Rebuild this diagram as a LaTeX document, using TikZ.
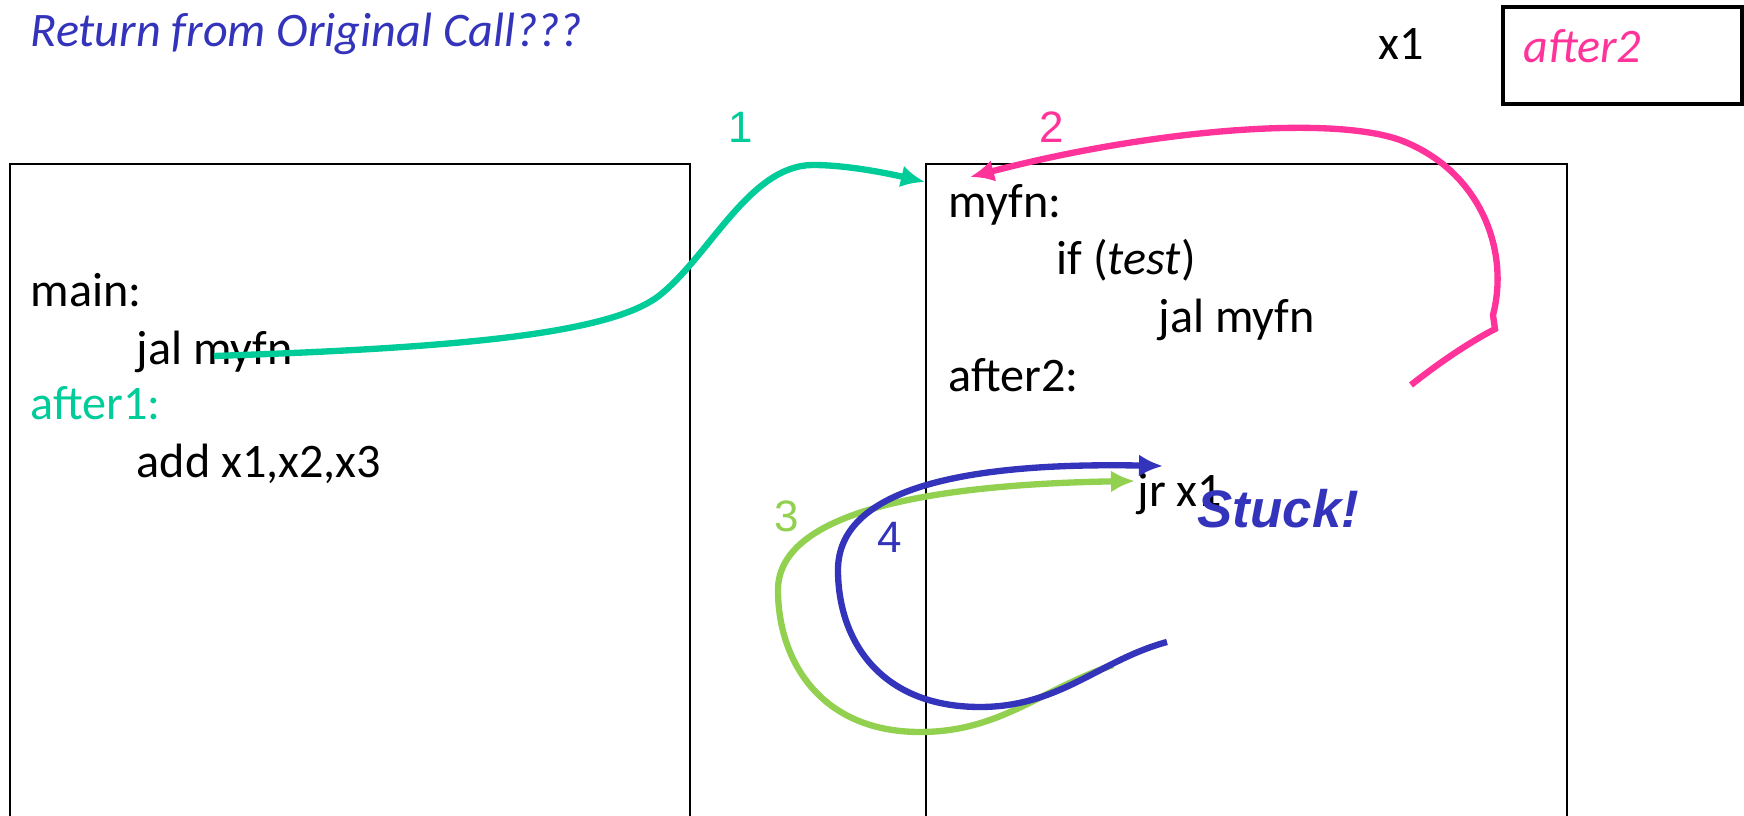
\documentclass[tikz,border=0pt]{standalone}
\usepackage{fontspec}
\setmainfont{Carlito}
\newfontfamily\arialfont{Liberation Sans}
\usetikzlibrary{arrows.meta}
\definecolor{titleblue}{HTML}{3333BB}
\definecolor{callteal}{HTML}{00CC99}
\definecolor{retpink}{HTML}{FF3399}
\definecolor{retgreen}{HTML}{92D050}

\begin{document}
\begin{tikzpicture}[
  x=0.01cm, y=-0.01cm,
  code/.style={anchor=base west, inner sep=0pt, font=\fontsize{13.7}{16}\selectfont},
  stepnum/.style={anchor=base, inner sep=0pt, font=\arialfont\fontsize{12.5}{15}\selectfont},
  frame/.style={draw, line width=0.6pt},
  flow/.style={line width=1.8pt, ->},
  >={Latex[length=2.4mm, width=2.2mm]}
]
\useasboundingbox (0,0) rectangle (1744,816);

\node[code, text=titleblue, font=\fontsize{13.7}{16}\selectfont\itshape] (title) at (30,47) {Return from Original Call???};
\node[code] (regname) at (1378,60) {x1};
\draw[line width=1pt] (1503,7) rectangle (1742,104);
\node[code, text=retpink, font=\fontsize{13.7}{16}\selectfont\itshape] (regval) at (1523,63) {after2};

\draw[frame] (10,816) |- (690,164) -- (690,816);
\draw[frame] (926,816) |- (1567,164) -- (1567,816);

\node[code] (mainlbl) at (30,307) {main:};
\node[code] (jalmain) at (136,365) {jal myfn};
\node[code, text=callteal] (after1) at (30,420) {after1:};
\node[code] (addline) at (136,478) {add x1,x2,x3};

\node[code] (fnlbl) at (948,218) {myfn:};
\node[code] (iftest) at (1056,275) {if (\textit{test})};
\node[code] (jalfn) at (1158,333) {jal myfn};
\node[code] (after2) at (948,392) {after2:};
\node[code] (jrline) at (1137,507) {jr x1};

\node[stepnum, text=callteal] (n1) at (741,143) {1};
\node[stepnum, text=retpink] (n2) at (1052,143) {2};
\node[stepnum, text=retgreen] (n3) at (787,532) {3};
\node[stepnum, text=titleblue] (n4) at (890,553) {4};

\coordinate (callfrom) at (214,356);
\coordinate (fnentry) at (925,182);
\coordinate (recfrom) at (1411,385);
\coordinate (recto) at (970,177);
\coordinate (retfrom) at (1113,665);
\coordinate (retto) at (1135,481);
\coordinate (stuckfrom) at (1167,642);
\coordinate (stuckto) at (1163,466);

\draw[flow, callteal] (callfrom) .. controls (450,348) and (610,335) .. (660,295)
  .. controls (710,255) and (750,165) .. (813,165)
  .. controls (850,165) and (895,175) .. (fnentry);
\draw[flow, retpink] (recfrom) .. controls (1440,362) and (1470,342) .. (1495,329) -- (1493,315)
  .. controls (1510,250) and (1480,170) .. (1400,140)
  .. controls (1330,115) and (1150,130) .. (recto);
\draw[flow, retgreen] (retfrom) .. controls (1040,690) and (1000,732) .. (920,732)
  .. controls (820,732) and (778,660) .. (778,590)
  .. controls (778,520) and (900,485) .. (retto);
\draw[flow, titleblue] (stuckfrom) .. controls (1100,660) and (1060,707) .. (980,707)
  .. controls (880,707) and (838,640) .. (838,570)
  .. controls (838,490) and (960,462) .. (stuckto);

\node[code, text=titleblue, font=\arialfont\fontsize{15}{18}\selectfont\bfseries\itshape] (stuck) at (1197,528) {Stuck!};
\end{tikzpicture}
\end{document}
